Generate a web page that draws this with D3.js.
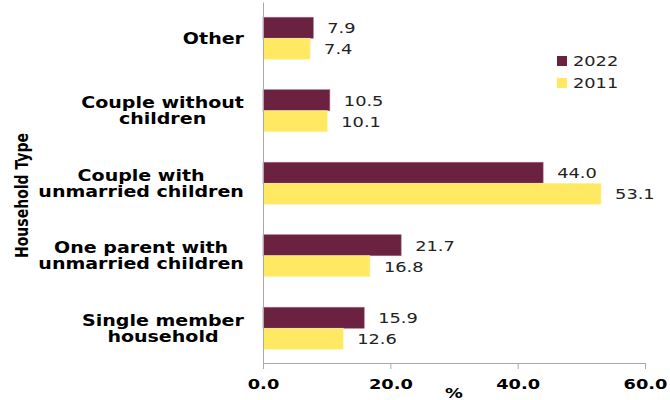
<!DOCTYPE html>
<html><head><meta charset="utf-8">
<script src="https://cdn.jsdelivr.net/npm/d3@7"></script>
<style>html,body{margin:0;padding:0;background:#fff;}svg{display:block;}</style>
</head><body>
<svg id="c" width="670" height="400"></svg>
<script>
const categories = [
  ["Other"],
  ["Couple without", "children"],
  ["Couple with", "unmarried children"],
  ["One parent with", "unmarried children"],
  ["Single member", "household"]
];
const catKeys = ["Other", "Couple without children", "Couple with unmarried children", "One parent with unmarried children", "Single member household"];
const series = ["2022", "2011"];
const values2022 = [7.9, 10.5, 44.0, 21.7, 15.9];
const values2011 = [7.4, 10.1, 53.1, 16.8, 12.6];
const xTicks = [0, 20, 40, 60];
const colors = ["#6B2140", "#FFE963"];

const svg = d3.select("#c");
const font = "'DejaVu Sans', Verdana, sans-serif";
const SX = 1.27;
const x = d3.scaleLinear().domain([0, 60]).range([263, 645]);
const y = d3.scaleBand().domain(catKeys).range([2, 364.5]).paddingInner(0.42).paddingOuter(0.21);
const ySub = d3.scaleBand().domain(series).range([0, y.bandwidth()]);

const data = catKeys.map((k, i) => ({key: k, vals: [values2022[i], values2011[i]]}));

function stext(parent, px, py, txt, size, bold, fill, anchor) {
  const g = parent.append("g").attr("transform", `translate(${px},${py}) scale(${SX},1)`);
  return g.append("text").attr("x", 0).attr("y", 0)
    .attr("font-family", font).attr("font-size", size)
    .attr("font-weight", bold ? "bold" : "normal")
    .attr("fill", fill).attr("text-anchor", anchor || "start").text(txt);
}

// bars
const g = svg.append("g");
data.forEach(d => {
  series.forEach((s, j) => {
    const v = d.vals[j];
    const yy = y(d.key) + ySub(s);
    g.append("rect")
      .attr("x", x(0)).attr("y", yy)
      .attr("width", x(v) - x(0)).attr("height", ySub.bandwidth())
      .attr("fill", colors[j])
      .attr("stroke", j === 0 ? "#a86a84" : "#fff3b0").attr("stroke-width", 0.6);
    stext(g, x(v) + 14, yy + ySub.bandwidth() / 2 + 5.3, v.toFixed(1), 14, false, "#222");
  });
});

// x axis
const xAxis = d3.axisBottom(x).tickValues(xTicks).tickFormat(d3.format(".1f")).tickSize(6).tickSizeOuter(0);
const xg = svg.append("g").attr("transform", "translate(0,363)").call(xAxis);
xg.select(".domain").attr("stroke", "#aaa");
xg.selectAll(".tick line").attr("stroke", "#aaa");
xg.selectAll(".tick text").attr("font-family", font).attr("font-size", 14).attr("font-weight", "bold")
  .attr("fill", "#000").attr("dy", null).attr("y", 26.3).attr("transform", `scale(${SX},1)`);

// y axis line
const yAxis = d3.axisLeft(y).tickSize(0).tickFormat(() => "");
const yg = svg.append("g").attr("transform", "translate(263,0)").call(yAxis);
yg.select(".domain").attr("stroke", "#aaa");

// category labels (centered lines, block right-aligned)
catKeys.forEach((k, i) => {
  const lines = categories[i];
  const cy = y(k) + y.bandwidth() / 2;
  const lh = 16.3;
  const grp = svg.append("g");
  const texts = lines.map((ln, li) => grp.append("text")
    .attr("x", 0).attr("y", cy + 5.5 + (li - (lines.length - 1) / 2) * lh)
    .attr("font-family", font).attr("font-size", 15).attr("font-weight", "bold")
    .attr("fill", "#000").attr("text-anchor", "middle").text(ln));
  const w = d3.max(texts, t => t.node().getComputedTextLength());
  const cx = 244 - w * SX / 2;
  grp.attr("transform", `translate(${cx},0) scale(${SX},1)`);
});

// axis titles
stext(svg, 454, 398, "%", 14, true, "#000", "middle");
svg.append("text").attr("transform", `translate(27.5,195.5) scale(${SX},1) rotate(-90)`).attr("text-anchor", "middle")
  .attr("font-family", font).attr("font-size", 14).attr("font-weight", "bold").text("Household Type");

// legend
series.forEach((s, j) => {
  const ly = 56 + j * 22;
  svg.append("rect").attr("x", 557).attr("y", ly).attr("width", 10).attr("height", 10).attr("fill", colors[j]);
  stext(svg, 573, ly + 9.5, s, 14, false, "#222");
});
</script>
</body></html>
